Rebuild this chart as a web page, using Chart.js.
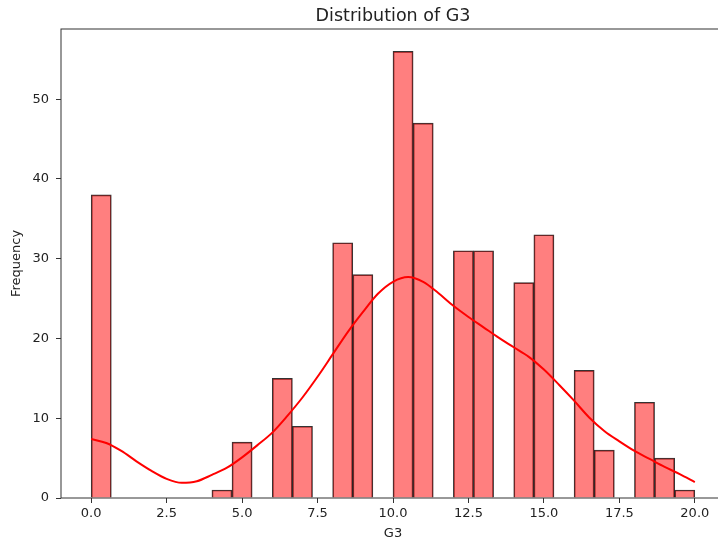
<!DOCTYPE html>
<html>
<head>
<meta charset="utf-8">
<script src="https://cdn.jsdelivr.net/npm/chart.js@4"></script>
<style>
  html, body { margin: 0; padding: 0; background: #fff; overflow: hidden; }
  canvas { display: block; }
</style>
</head>
<body>
<canvas id="myChart" width="740" height="545" style="width:740px;height:545px"></canvas>
<script>
// histogram of G3, 30 bins between 0 and 20
let binStart = 0;
let binEnd = 20;
let binCounts = [38, 0, 0, 0, 0, 0, 1, 7, 0, 15, 9, 0, 32, 28, 0, 56, 47, 0, 31, 31, 0, 27, 33, 0, 16, 6, 0, 12, 5, 1];

// kde curve
let kdeX = [0, 0.5, 1, 1.5, 2, 2.5, 3, 3.5, 4, 4.5, 5, 5.5, 6, 6.5, 7, 7.5, 8, 8.5, 9, 9.5, 10,
            10.5, 11, 11.5, 12, 12.5, 13, 13.5, 14, 14.5, 15, 15.5, 16, 16.5, 17, 17.5, 18, 18.5, 19, 19.5, 20];
let kdeY = [7.4, 6.9, 5.9, 4.6, 3.4, 2.4, 1.9, 2.1, 2.9, 3.8, 5.1, 6.6, 8.2, 10.3, 12.6, 15.2, 18.0, 20.8, 23.3, 25.6, 27.1,
            27.7, 27.1, 25.7, 24.1, 22.7, 21.4, 20.1, 18.9, 17.7, 16.1, 14.2, 12.2, 10.1, 8.4, 7.1, 5.9, 4.9, 3.9, 3.0, 2.0];

let xTicks = [0, 2.5, 5, 7.5, 10, 12.5, 15, 17.5, 20];
let yTicks = [0, 10, 20, 30, 40, 50];

let titulo = 'Distribution of G3';
let xLabel = 'G3';
let yLabel = 'Frequency';

Chart.defaults.font.family = 'DejaVu Sans';
Chart.defaults.font.size = 13;
Chart.defaults.color = '#222';

let anchoBin = (binEnd - binStart) / binCounts.length;
let barras = binCounts.map((c, i) => ({ x: binStart + anchoBin * (i + 0.5), y: c }));
let curva = kdeX.map((x, i) => ({ x: x, y: kdeY[i] }));

const marco = {
    id: 'marco',
    afterDatasetsDraw(chart) {
        const { ctx, chartArea } = chart;
        ctx.save();
        ctx.strokeStyle = '#333';
        ctx.lineWidth = 1;
        ctx.strokeRect(chartArea.left, chartArea.top, chartArea.right - chartArea.left, chartArea.bottom - chartArea.top);
        ctx.font = '17.5px "DejaVu Sans"';
        ctx.fillStyle = '#222';
        ctx.textAlign = 'center';
        ctx.textBaseline = 'alphabetic';
        ctx.fillText(titulo, (chartArea.left + chartArea.right) / 2, 20.5);
        ctx.restore();
    }
};

var ctx = document.getElementById('myChart').getContext('2d');
let myChart = new Chart(ctx, {
    type: 'bar',
    data: {
        datasets: [{
            type: 'line',
            data: curva,
            borderColor: '#ff0000',
            borderWidth: 2,
            pointRadius: 0,
            cubicInterpolationMode: 'monotone',
            fill: false,
            order: 0
        }, {
            type: 'bar',
            data: barras,
            backgroundColor: 'rgba(255, 0, 0, 0.5)',
            borderColor: 'rgba(0, 0, 0, 0.8)',
            borderWidth: 1,
            barPercentage: 1,
            categoryPercentage: 1,
            order: 1
        }]
    },
    options: {
        responsive: false,
        animation: false,
        layout: { padding: { top: 29, right: 15, left: 0, bottom: 0 } },
        plugins: {
            legend: { display: false },
            tooltip: { enabled: false },
            title: { display: false }
        },
        scales: {
            x: {
                type: 'linear',
                min: -1,
                max: 21,
                offset: false,
                afterBuildTicks: (s) => { s.ticks = xTicks.map(v => ({ value: v })); },
                afterFit: (s) => { s.height = 47; },
                ticks: { callback: (v) => Number(v).toFixed(1), padding: 3, maxRotation: 0, autoSkip: false },
                grid: { drawOnChartArea: false, drawTicks: true, tickLength: 5, color: '#333', offset: false },
                border: { display: false },
                title: { display: true, text: xLabel, padding: { top: 0, bottom: 4 } }
            },
            y: {
                min: 0,
                max: 58.8,
                afterBuildTicks: (s) => { s.ticks = yTicks.map(v => ({ value: v })); },
                afterFit: (s) => { s.width = 61; },
                ticks: { padding: 7 },
                grid: { drawOnChartArea: false, drawTicks: true, tickLength: 5, color: '#333' },
                border: { display: false },
                title: { display: true, text: yLabel, padding: { top: 9, bottom: 0 } }
            }
        }
    },
    plugins: [marco]
});
</script>
</body>
</html>
